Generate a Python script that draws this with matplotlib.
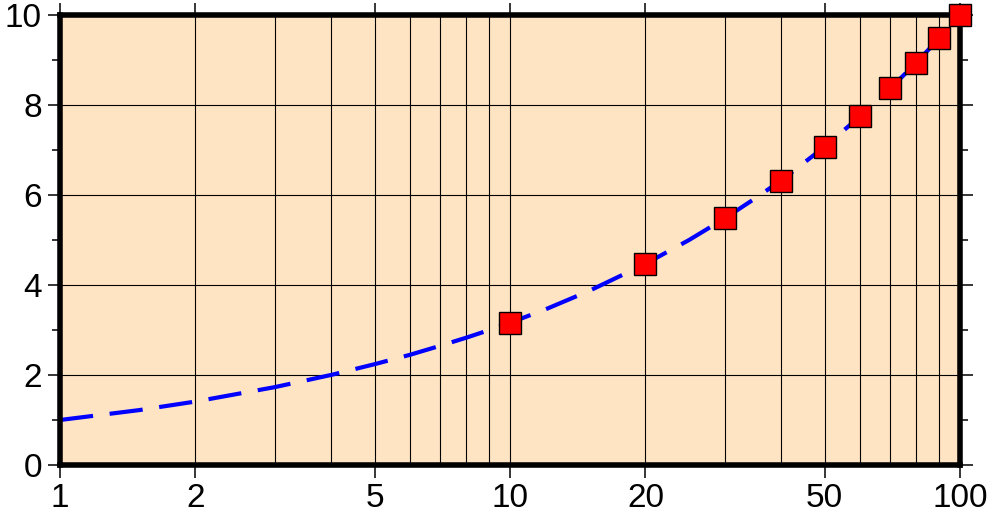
import matplotlib.pyplot as plt
from matplotlib.ticker import FixedLocator, NullFormatter

plt.rcParams['font.family'] = ['Liberation Sans', 'DejaVu Sans']

# dashed curve, values
curve_x = [1, 1.5, 2, 3, 4, 5, 6, 7, 8, 9, 10, 12, 15, 20, 25, 30, 35, 40, 50, 60, 70, 80, 90, 100]
curve_y = [1.0, 1.22, 1.41, 1.73, 2.0, 2.24, 2.45, 2.65, 2.83, 3.0, 3.16, 3.46, 3.87, 4.47,
           5.0, 5.48, 5.92, 6.32, 7.07, 7.75, 8.37, 8.94, 9.49, 10.0]

# red squares
pts_x = [10, 20, 30, 40, 50, 60, 70, 80, 90, 100]
pts_y = [3.16, 4.47, 5.48, 6.32, 7.07, 7.75, 8.37, 8.94, 9.49, 10.0]

x_major = [1, 2, 5, 10, 20, 50, 100]
x_grid_minor = [3, 4, 6, 7, 8, 9, 30, 40, 60, 70, 80, 90]
y_major = [0, 2, 4, 6, 8, 10]
y_minor = [1, 3, 5, 7, 9]

fig = plt.figure(figsize=(9.88, 5.16), dpi=100)
ax = fig.add_axes([60 / 988, 1 - 465 / 516, 900 / 988, 450 / 516])
ax.set_facecolor('#FFE4C4')

ax.plot(curve_x, curve_y, color='blue', lw=3, linestyle=(0, (8, 4)), zorder=3)
ax.plot(pts_x, pts_y, linestyle='none', marker='s', markersize=15.5,
        markerfacecolor='red', markeredgecolor='black', markeredgewidth=1,
        clip_on=False, zorder=5)

ax.set_xscale('log')
ax.set_xlim(1, 100)
ax.set_ylim(0, 10)
ax.xaxis.set_major_locator(FixedLocator(x_major))
ax.xaxis.set_minor_locator(FixedLocator(x_grid_minor))
ax.xaxis.set_minor_formatter(NullFormatter())
ax.set_xticklabels([str(v) for v in x_major])
ax.yaxis.set_major_locator(FixedLocator(y_major))
ax.yaxis.set_minor_locator(FixedLocator(y_minor))

ax.grid(which='both', axis='x', color='black', lw=0.8, zorder=1)
ax.grid(which='major', axis='y', color='black', lw=0.8, zorder=1)
ax.set_axisbelow(True)

ax.tick_params(which='major', direction='out', length=9, width=1.1, labelsize=24,
               top=True, right=True, pad=4)
ax.tick_params(axis='y', which='minor', direction='out', length=5.5, width=1.1,
               left=True, right=True)
ax.tick_params(axis='x', which='minor', length=0)

for s in ax.spines.values():
    s.set_linewidth(4)
    s.set_zorder(4)

fig.savefig('out.png', dpi=100)
